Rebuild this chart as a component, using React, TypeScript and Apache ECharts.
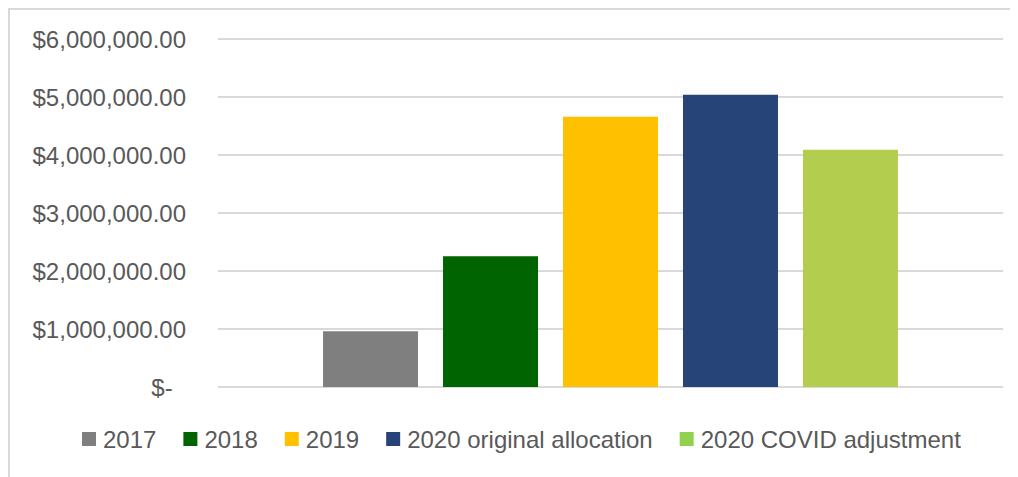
import React, { useEffect, useRef } from "react";
import * as echarts from "echarts";

const seriesNames = ["2017", "2018", "2019", "2020 original allocation", "2020 COVID adjustment"];
const seriesValues = [960000, 2255000, 4660000, 5040000, 4090000];
const barColors = ["#7F7F7F", "#006400", "#FFC000", "#264478", "#B3CE4E"];
const legendColors = ["#7F7F7F", "#006400", "#FFC000", "#264478", "#92D050"];
const categories = [""];

const fmt = (v: number) => {
  if (v === 0) return "$-\u00a0\u00a0";
  return "$" + v.toLocaleString("en-US", { minimumFractionDigits: 2, maximumFractionDigits: 2 });
};

export default function App() {
  const ref = useRef<HTMLDivElement>(null);
  useEffect(() => {
    if (!ref.current) return;
    const chart = echarts.init(ref.current, undefined, { renderer: "svg" });
    const font = "'Liberation Sans', Arial, sans-serif";
    chart.setOption({
      animation: false,
      textStyle: { fontFamily: font },
      grid: { left: 208, right: 15, top: 29, bottom: 90, containLabel: false },
      legend: {
        left: 67,
        top: 412,
        icon: "rect",
        itemWidth: 14,
        itemHeight: 14,
        itemGap: 27,
        textStyle: { fontSize: 24, color: "#595959", fontFamily: font, padding: [0, 0, 0, 2] },
        data: seriesNames.map((n, i) => ({ name: n, itemStyle: { color: legendColors[i] } })),
      },
      xAxis: {
        type: "category",
        data: categories,
        axisLine: { show: false },
        axisTick: { show: false },
        axisLabel: { show: false },
      },
      yAxis: {
        type: "value",
        min: 0,
        max: 6000000,
        interval: 1000000,
        axisLine: { show: false },
        axisTick: { show: false },
        axisLabel: {
          formatter: fmt,
          fontSize: 24,
          color: "#595959",
          fontFamily: font,
          margin: 32,
        },
        splitLine: { lineStyle: { color: "#D9D9D9", width: 2 } },
      },
      series: seriesNames.map((n, i) => ({
        name: n,
        type: "bar",
        data: [seriesValues[i]],
        barWidth: 95,
        barGap: "26.3%",
        itemStyle: { color: barColors[i] },
      })),
    });
    return () => chart.dispose();
  }, []);
  return (
    <div
      style={{
        width: 1010,
        height: 469,
        boxSizing: "border-box",
        borderTop: "2px solid #D9D9D9",
        borderLeft: "2px solid #D9D9D9",
        background: "#fff",
        overflow: "hidden",
      }}
    >
      <div ref={ref} style={{ width: 1008, height: 467 }} />
    </div>
  );
}
